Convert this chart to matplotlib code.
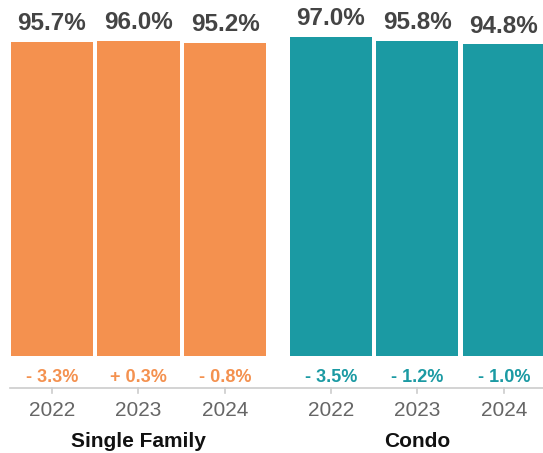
import matplotlib
matplotlib.use("Agg")
import matplotlib.pyplot as plt

# data
years = ["2022", "2023", "2024"]
groups = ["Single Family", "Condo"]
single_family = [95.7, 96.0, 95.2]
condo = [97.0, 95.8, 94.8]
sf_change = [-3.3, 0.3, -0.8]
condo_change = [-3.5, -1.2, -1.0]

colors = ["#F4914F", "#1B9AA3"]
plt.rcParams["font.family"] = ["Liberation Sans", "DejaVu Sans"]

fig = plt.figure(figsize=(5.43, 4.53), dpi=100)
ax = fig.add_axes([0, 0, 1, 1])
ax.set_xlim(-0.601, 5.676)
ax.set_ylim(-29.52, 108.34)
ax.axis("off")

gap = 1.225
series = [(single_family, sf_change), (condo, condo_change)]
for g, (vals, chg) in enumerate(series):
    xs = [g * (2 + gap) + i for i in range(len(vals))]
    ax.bar(xs, vals, width=0.948, color=colors[g], linewidth=0)
    for x, v, c in zip(xs, vals, chg):
        ax.text(x, v + 3.6, f"{v:.1f}%", ha="center", va="baseline",
                fontsize=17.5, fontweight="bold", color="#444444")
        sign = "+" if c > 0 else "-"
        ax.text(x, -7.8, f"{sign} {abs(c):.1f}%", ha="center", va="baseline",
                fontsize=13, fontweight="bold", color=colors[g])
    for x, yr in zip(xs, years):
        ax.plot([x, x], [-9.74, -11.3], color="#cccccc", lw=1.2)
        ax.text(x, -18.3, yr, ha="center", va="baseline", fontsize=15, color="#666666")
    ax.text(xs[1], -27.8, groups[g], ha="center", va="baseline",
            fontsize=15, fontweight="bold", color="#111111")

ax.plot([-0.485, 5.676], [-9.74, -9.74], color="#cccccc", lw=1.2)

fig.savefig("out.png", dpi=100)
